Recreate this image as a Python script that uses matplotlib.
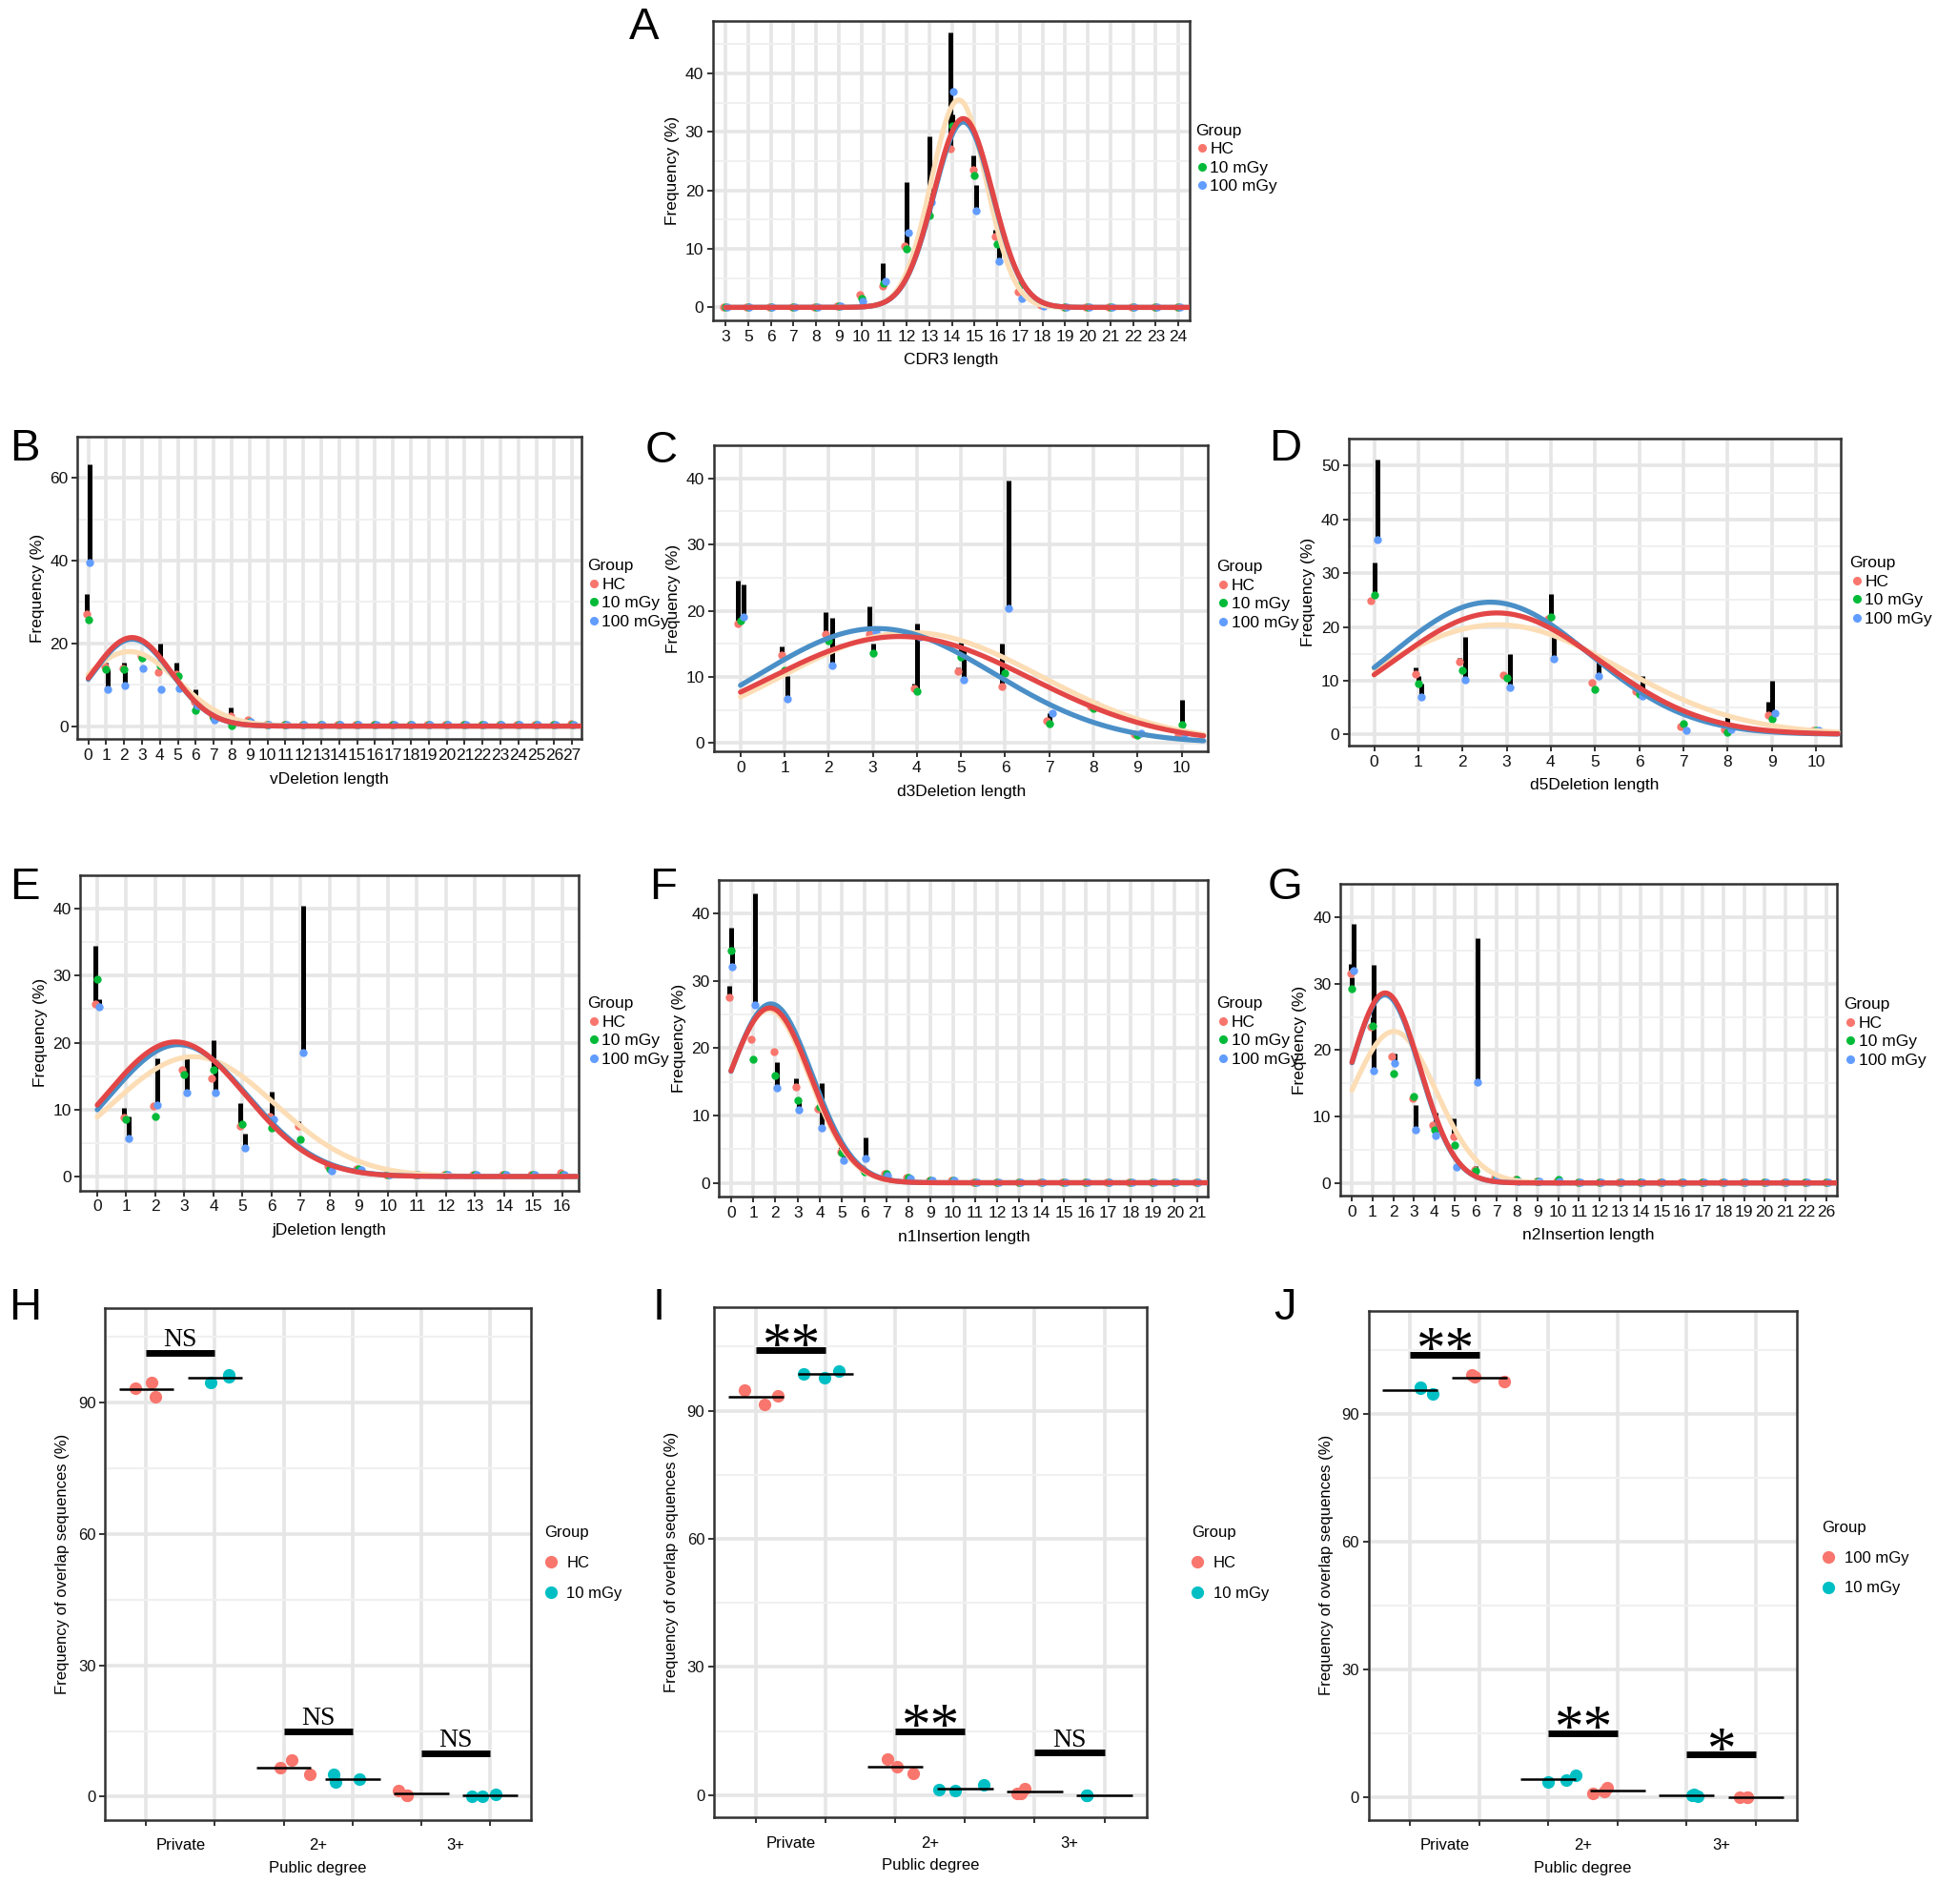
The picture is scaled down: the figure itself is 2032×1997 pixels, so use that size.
import numpy as np
import matplotlib
matplotlib.use("Agg")
import matplotlib.pyplot as plt
from matplotlib.lines import Line2D

plt.rcParams['font.family'] = ['Liberation Sans', 'DejaVu Sans']

# ---------------- data: length distributions (A-G) ----------------
groups = ['HC', '10 mGy', '100 mGy']

A_cats = ['3', '5', '6', '7', '8', '9', '10', '11', '12', '13', '14', '15', '16', '17', '18', '19', '20', '21', '22', '23', '24']
A_hc = [0, 0, 0, 0, 0, 0.2, 2.2, 3.6, 10.5, 17.0, 27.2, 23.6, 12.2, 2.6, 0.4, 0.1, 0, 0, 0, 0, 0.1]
A_hc_up = [0, 0, 0, 0, 0, 0.2, 2.4, 7.5, 10.5, 17.0, 47.0, 26.0, 13.3, 2.6, 0.4, 0.1, 0, 0, 0, 0, 0.1]
A_g10 = [0, 0, 0, 0, 0, 0.3, 1.6, 4.2, 10.0, 15.8, 31.0, 22.6, 10.9, 3.8, 0.5, 0, 0, 0, 0, 0, 0]
A_g10_up = [0, 0, 0, 0, 0, 0.3, 1.6, 4.2, 21.5, 29.3, 33.0, 22.6, 10.9, 3.8, 0.5, 0, 0, 0, 0, 0, 0]
A_g100 = [0, 0, 0, 0, 0, 0.3, 1.0, 4.5, 12.8, 18.0, 37.0, 16.6, 7.9, 1.6, 0.3, 0, 0, 0, 0, 0, 0]
A_g100_up = [0, 0, 0, 0, 0, 0.3, 1.0, 4.5, 12.8, 18.0, 37.0, 21.0, 10.5, 2.5, 0.3, 0, 0, 0, 0, 0, 0]
A_fit = {'HC': (32.3, 10.5, 1.3), '10 mGy': (35.5, 10.3, 1.22), '100 mGy': (31.7, 10.5, 1.3)}

B_cats = ['0', '1', '2', '3', '4', '5', '6', '7', '8', '9', '10', '11', '12', '13', '14', '15', '16', '17', '18', '19', '20', '21', '22', '23', '24', '25', '26', '27']
B_hc = [27.0, 14.5, 14.0, 17.0, 13.0, 12.5, 6.0, 2.5, 2.5, 1.5, 0.3, 0.3, 0.3, 0.3, 0.3, 0.3, 0.3, 0.3, 0.3, 0.3, 0.3, 0.3, 0.3, 0.3, 0.3, 0.3, 0.3, 0.5]
B_hc_up = [32.0, 14.5, 14.0, 17.9, 13.0, 15.4, 6.0, 2.8, 4.6, 1.8, 0.3, 0.3, 0.3, 0.3, 0.3, 0.3, 0.3, 0.3, 0.3, 0.3, 0.3, 0.3, 0.3, 0.3, 0.3, 0.3, 0.3, 0.9]
B_g10 = [25.6, 13.7, 13.7, 16.5, 14.7, 12.0, 3.9, 2.0, 0.2, 1.0, 0.3, 0.3, 0.3, 0.3, 0.3, 0.3, 0.3, 0.3, 0.3, 0.3, 0.3, 0.3, 0.3, 0.3, 0.3, 0.3, 0.3, 0.3]
B_g10_up = [25.6, 15.4, 15.4, 16.5, 20.0, 12.0, 8.8, 2.0, 0.2, 1.0, 0.3, 0.3, 0.3, 0.3, 0.3, 0.3, 0.3, 0.3, 0.3, 0.3, 0.3, 0.3, 0.3, 0.3, 0.3, 0.3, 0.3, 0.3]
B_g100 = [39.6, 8.8, 9.8, 14.0, 8.8, 9.1, 5.0, 1.4, 1.5, 1.0, 0.3, 0.3, 0.3, 0.3, 0.3, 0.3, 0.3, 0.3, 0.3, 0.3, 0.3, 0.3, 0.3, 0.3, 0.3, 0.3, 0.3, 0.3]
B_g100_up = [63.2, 13.7, 13.7, 14.0, 8.8, 9.1, 5.0, 1.4, 1.5, 1.0, 0.3, 0.3, 0.3, 0.3, 0.3, 0.3, 0.3, 0.3, 0.3, 0.3, 0.3, 0.3, 0.3, 0.3, 0.3, 0.3, 0.3, 0.3]
B_fit = {'HC': (21.4, 2.44, 2.2), '10 mGy': (18.0, 2.3, 2.7), '100 mGy': (21.0, 2.45, 2.2)}

C_cats = ['0', '1', '2', '3', '4', '5', '6', '7', '8', '9', '10']
C_hc = [18.0, 13.3, 16.5, 16.5, 8.3, 10.9, 8.5, 3.3, 5.5, 1.3, 1.2]
C_hc_up = [24.5, 14.6, 19.8, 20.7, 9.0, 11.5, 15.0, 3.3, 5.5, 1.3, 1.2]
C_g10 = [18.5, 11.0, 15.5, 13.6, 7.8, 13.0, 10.5, 3.0, 5.2, 1.2, 2.8]
C_g10_up = [19.0, 11.0, 15.5, 15.0, 18.0, 15.2, 10.5, 4.5, 5.2, 1.2, 6.5]
C_g100 = [19.0, 6.7, 11.7, 16.7, 16.0, 9.6, 20.4, 4.5, 5.8, 1.5, 1.5]
C_g100_up = [24.0, 10.2, 18.9, 16.7, 16.0, 14.1, 39.6, 4.5, 6.1, 1.8, 2.0]
C_fit = {'HC': (16.1, 3.61, 2.97), '10 mGy': (16.7, 3.87, 2.93), '100 mGy': (17.3, 3.1, 2.65)}

D_cats = ['0', '1', '2', '3', '4', '5', '6', '7', '8', '9', '10']
D_hc = [24.8, 11.2, 13.5, 11.0, 21.5, 9.7, 8.0, 1.5, 1.0, 3.5, 0.8]
D_hc_up = [25.5, 12.5, 14.2, 11.2, 21.5, 9.7, 8.0, 2.0, 1.0, 6.0, 0.8]
D_g10 = [26.0, 9.5, 12.0, 10.5, 21.9, 8.4, 7.5, 2.0, 0.4, 2.9, 0.8]
D_g10_up = [32.0, 10.8, 12.0, 10.5, 26.2, 8.4, 7.5, 2.0, 3.2, 10.0, 1.0]
D_g100 = [36.3, 7.0, 10.2, 8.7, 14.0, 10.8, 7.1, 0.7, 1.0, 4.0, 0.8]
D_g100_up = [51.2, 9.5, 18.1, 15.0, 18.7, 13.6, 10.8, 0.7, 1.0, 4.0, 0.8]
D_fit = {'HC': (22.6, 2.78, 2.33), '10 mGy': (20.4, 2.8, 2.76), '100 mGy': (24.6, 2.63, 2.25)}

E_cats = ['0', '1', '2', '3', '4', '5', '6', '7', '8', '9', '10', '11', '12', '13', '14', '15', '16']
E_hc = [25.8, 8.8, 10.5, 16.0, 14.7, 7.6, 9.0, 7.5, 1.5, 1.2, 0.3, 0.3, 0.3, 0.3, 0.3, 0.3, 0.5]
E_hc_up = [34.5, 10.2, 11.0, 16.0, 14.7, 10.9, 9.0, 8.3, 1.8, 1.2, 0.3, 0.3, 0.3, 0.3, 0.3, 0.3, 0.5]
E_g10 = [29.5, 8.5, 8.9, 15.2, 16.0, 7.8, 7.3, 5.5, 1.2, 1.2, 0.3, 0.3, 0.3, 0.3, 0.3, 0.3, 0.3]
E_g10_up = [29.8, 8.5, 8.9, 15.2, 20.4, 7.8, 12.7, 5.5, 1.2, 1.2, 0.3, 0.3, 0.3, 0.3, 0.3, 0.3, 0.3]
E_g100 = [25.3, 5.7, 10.7, 12.5, 12.5, 4.2, 8.5, 18.5, 0.8, 1.0, 0.3, 0.3, 0.3, 0.3, 0.3, 0.3, 0.3]
E_g100_up = [26.5, 9.0, 17.6, 18.1, 17.0, 6.4, 8.5, 40.5, 0.8, 1.0, 0.3, 0.3, 0.3, 0.3, 0.3, 0.3, 0.3]
E_fit = {'HC': (20.1, 2.7, 2.4), '10 mGy': (17.9, 3.31, 2.8), '100 mGy': (19.7, 2.8, 2.4)}

F_cats = ['0', '1', '2', '3', '4', '5', '6', '7', '8', '9', '10', '11', '12', '13', '14', '15', '16', '17', '18', '19', '20', '21']
F_hc = [27.6, 21.4, 19.5, 14.3, 11.0, 4.6, 2.0, 1.3, 0.8, 0.4, 0.4, 0.1, 0.1, 0.1, 0.1, 0.1, 0.1, 0.1, 0.1, 0.1, 0.1, 0.1]
F_hc_up = [29.3, 21.4, 19.5, 15.5, 11.0, 5.7, 2.0, 1.3, 0.8, 0.4, 0.4, 0.1, 0.1, 0.1, 0.1, 0.1, 0.1, 0.1, 0.1, 0.1, 0.1, 0.1]
F_g10 = [34.5, 18.4, 16.0, 12.3, 11.3, 4.5, 1.6, 1.3, 0.8, 0.4, 0.4, 0.1, 0.1, 0.1, 0.1, 0.1, 0.1, 0.1, 0.1, 0.1, 0.1, 0.1]
F_g10_up = [37.9, 18.4, 16.0, 12.3, 11.3, 4.5, 1.6, 1.3, 0.8, 0.4, 0.4, 0.1, 0.1, 0.1, 0.1, 0.1, 0.1, 0.1, 0.1, 0.1, 0.1, 0.1]
F_g100 = [32.1, 26.4, 14.1, 10.8, 8.2, 3.3, 3.6, 1.0, 0.6, 0.4, 0.4, 0.1, 0.1, 0.1, 0.1, 0.1, 0.1, 0.1, 0.1, 0.1, 0.1, 0.1]
F_g100_up = [35.0, 43.1, 17.9, 12.5, 14.8, 5.0, 6.7, 1.0, 0.6, 0.4, 0.4, 0.1, 0.1, 0.1, 0.1, 0.1, 0.1, 0.1, 0.1, 0.1, 0.1, 0.1]
F_fit = {'HC': (26.0, 1.75, 1.85), '10 mGy': (25.7, 1.7, 1.85), '100 mGy': (26.6, 1.8, 1.85)}

G_cats = ['0', '1', '2', '3', '4', '5', '6', '7', '8', '9', '10', '11', '12', '13', '14', '15', '16', '17', '18', '19', '20', '21', '22', '26']
G_hc = [31.5, 23.5, 19.1, 12.8, 8.7, 7.0, 2.0, 0.8, 0.5, 0.3, 0.3, 0.1, 0.1, 0.1, 0.1, 0.1, 0.1, 0.1, 0.1, 0.1, 0.1, 0.1, 0.1, 0.1]
G_hc_up = [33.0, 23.5, 19.1, 12.8, 8.7, 9.7, 2.0, 1.2, 0.5, 0.3, 0.3, 0.1, 0.1, 0.1, 0.1, 0.1, 0.1, 0.1, 0.1, 0.1, 0.1, 0.1, 0.1, 0.3]
G_g10 = [29.3, 23.7, 16.4, 13.0, 8.0, 5.7, 1.8, 0.8, 0.6, 0.3, 0.5, 0.1, 0.1, 0.1, 0.1, 0.1, 0.1, 0.1, 0.1, 0.1, 0.1, 0.1, 0.1, 0.1]
G_g10_up = [31.0, 25.0, 16.4, 13.0, 8.0, 5.7, 2.5, 0.8, 0.6, 0.3, 0.5, 0.1, 0.1, 0.1, 0.1, 0.1, 0.1, 0.1, 0.1, 0.1, 0.1, 0.1, 0.1, 0.1]
G_g100 = [32.0, 16.9, 18.0, 8.0, 7.1, 2.4, 15.2, 0.8, 0.3, 0.3, 0.3, 0.1, 0.1, 0.1, 0.1, 0.1, 0.1, 0.1, 0.1, 0.1, 0.1, 0.1, 0.1, 0.1]
G_g100_up = [39.0, 32.8, 19.5, 11.7, 10.6, 2.4, 36.8, 0.8, 0.3, 0.3, 0.3, 0.1, 0.1, 0.1, 0.1, 0.1, 0.1, 0.1, 0.1, 0.1, 0.1, 0.1, 0.1, 0.1]
G_fit = {'HC': (28.6, 1.61, 1.69), '10 mGy': (22.8, 2.03, 2.05), '100 mGy': (28.3, 1.6, 1.69)}

# ---------------- data: public degree overlap (H-J) ----------------
degree_cats = ['Private', '2+', '3+']

H_groups = ['HC', '10 mGy']
H_hc = [[93.2, 94.7, 91.3], [6.6, 8.4, 5.0], [1.5, 0.2, 0.2]]
H_g10 = [[94.7, 96.3, 96.0], [5.0, 3.4, 3.9], [0.1, 0.1, 0.6]]
H_sig = ['NS', 'NS', 'NS']
H_sig_y = [101.4, 14.8, 9.8]

I_groups = ['HC', '10 mGy']
I_hc = [[94.9, 91.5, 93.4], [8.5, 6.7, 5.1], [0.4, 1.5, 0.4]]
I_g10 = [[98.7, 97.8, 99.2], [1.4, 1.0, 2.4], [0.0, 0.0, 0.0]]
I_sig = ['**', '**', 'NS']
I_sig_y = [104.1, 15.0, 9.9]

J_groups = ['100 mGy', '10 mGy']
J_g10 = [[96.2, 94.6, 96.0], [3.5, 4.0, 5.1], [0.5, 0.3, 0.6]]
J_g100 = [[99.0, 98.6, 97.5], [0.9, 1.4, 2.3], [0.0, 0.0, 0.0]]
J_sig = ['**', '**', '*']
J_sig_y = [103.9, 15.0, 10.0]

# jitter offsets (layout only)
H_jit1 = [[-0.16, 0.08, 0.13], [-0.05, 0.12, 0.38], [-0.33, -0.21, -0.21]]
H_jit2 = [[-0.06, 0.20, 0.20], [-0.28, -0.25, 0.10], [-0.26, -0.11, 0.09]]
I_jit1 = [[-0.16, 0.13, 0.32], [-0.11, 0.02, 0.26], [-0.25, -0.15, -0.20]]
I_jit2 = [[-0.31, -0.01, 0.19], [-0.38, -0.14, 0.27], [-0.25, -0.25, -0.25]]
J_jit1 = [[0.15, 0.33, 0.15], [-0.01, 0.26, 0.40], [0.07, 0.16, 0.10]]
J_jit2 = [[-0.11, -0.07, 0.36], [-0.36, -0.19, -0.15], [-0.24, -0.12, -0.12]]

# ---------------- styles ----------------
pt_colors = {'HC': '#F8766D', '10 mGy': '#00BA38', '100 mGy': '#619CFF'}
fit_colors = {'HC': '#E34646', '10 mGy': '#FCDDB5', '100 mGy': '#4A8FC7'}
fit_order = ['10 mGy', '100 mGy', 'HC']
dodge = {'HC': -0.07, '10 mGy': 0.0, '100 mGy': 0.07}
ovl_red = '#F8766D'
ovl_teal = '#00BFC4'
GRID = '#E6E6E6'
GRID_MINOR = '#F0F0F0'
FRAME = '#333333'

fig = plt.figure(figsize=(20.32, 19.97), dpi=100)


def style_frame(ax, tick_fs):
    for s in ax.spines.values():
        s.set_linewidth(1.8)
        s.set_color(FRAME)
    ax.tick_params(which='major', length=4, width=1.4, color=FRAME,
                   labelsize=tick_fs, pad=3, labelcolor='#111111')
    ax.set_axisbelow(True)


def add_legend(x, y, labels, colors, ms, fs, spacing, textpad):
    handles = [Line2D([], [], ls='none', marker='o', color=c, ms=ms) for c in colors]
    fig.legend(handles, labels, title='Group', loc='upper left',
               bbox_to_anchor=(x, y), frameon=False, fontsize=fs,
               title_fontsize=fs, alignment='left', handletextpad=textpad,
               labelspacing=spacing, borderpad=0, borderaxespad=0,
               handlelength=0.8)


def length_panel(rect, cats, means, ups, fits, xlabel, yticks, ylim, xlim,
                 letter, letter_xy, leg_xy):
    ax = fig.add_axes(rect)
    x = np.arange(len(cats))
    ax.set_xlim(*xlim)
    ax.set_ylim(*ylim)
    ax.set_xticks(x)
    ax.set_xticklabels(cats)
    ax.set_yticks(yticks)
    step = yticks[1] - yticks[0]
    ax.set_yticks([t + step / 2 for t in yticks], minor=True)
    ax.tick_params(axis='y', which='minor', length=0)
    ax.grid(which='major', color=GRID, lw=2.6)
    ax.grid(which='minor', axis='y', color=GRID_MINOR, lw=1.4)
    style_frame(ax, 12.5)
    for g in groups:
        m = np.asarray(means[g], float)
        u = np.asarray(ups[g], float)
        ax.vlines(x + dodge[g], m, u, color='black', lw=3.6, zorder=2)
    for g in groups:
        ax.plot(x + dodge[g], means[g], ls='none', marker='o', ms=5,
                color=pt_colors[g], zorder=3)
    xx = np.linspace(0, len(cats) - 0.5, 400)
    for g in fit_order:
        amp, c, s = fits[g]
        ax.plot(xx, amp * np.exp(-(xx - c) ** 2 / (2 * s * s)),
                color=fit_colors[g], lw=3.8, zorder=4, solid_capstyle='round')
    ax.set_xlabel(xlabel, fontsize=12.5, labelpad=7)
    ax.set_ylabel('Frequency (%)', fontsize=12.5, labelpad=4)
    fig.text(letter_xy[0], letter_xy[1], letter, fontsize=34, ha='center', va='center')
    add_legend(leg_xy[0], leg_xy[1], groups, [pt_colors[g] for g in groups],
               5.5, 12.5, 0.25, 0.1)
    return ax


def overlap_panel(rect, vals1, vals2, jit1, jit2, col1, col2, sig, sig_y, ylim,
                  letter, letter_xy, leg_xy, leg_labels, leg_colors):
    ax = fig.add_axes(rect)
    slots = np.arange(6)
    ax.set_xlim(-0.6, 5.6)
    ax.set_ylim(*ylim)
    ax.set_xticks(slots)
    ax.set_xticklabels([''] * 6)
    ax.set_xticks([0.5, 2.5, 4.5], minor=True)
    ax.set_xticklabels(degree_cats, minor=True)
    ax.tick_params(axis='x', which='minor', length=0, labelsize=12, pad=14)
    ax.set_yticks([0, 30, 60, 90])
    ax.set_yticks([15, 45, 75, 105], minor=True)
    ax.tick_params(axis='y', which='minor', length=0)
    ax.grid(which='major', color=GRID, lw=2.6)
    ax.grid(which='minor', axis='y', color=GRID_MINOR, lw=1.6)
    style_frame(ax, 12)
    for k in range(3):
        for vals, jit, col, slot in ((vals1, jit1, col1, 2 * k), (vals2, jit2, col2, 2 * k + 1)):
            v = np.asarray(vals[k], float)
            ax.plot(slot + np.asarray(jit[k]), v, ls='none', marker='o', ms=8.5,
                    color=col, zorder=3)
            ax.hlines(v.mean(), slot - 0.4, slot + 0.4, color='black', lw=1.8, zorder=4)
        ax.hlines(sig_y[k], 2 * k, 2 * k + 1, color='black', lw=5, zorder=4)
        if sig[k] == 'NS':
            ax.annotate(sig[k], (2 * k + 0.5, sig_y[k]), xytext=(0, 5),
                        textcoords='offset points', ha='center', va='baseline',
                        fontsize=20, family=['Liberation Serif', 'DejaVu Serif'])
        else:
            ax.annotate(sig[k], (2 * k + 0.5, sig_y[k]), xytext=(0, -9),
                        textcoords='offset points', ha='center', va='baseline',
                        fontsize=44, family=['Liberation Serif', 'DejaVu Serif'])
    ax.set_xlabel('Public degree', fontsize=12, labelpad=6)
    ax.set_ylabel('Frequency of overlap sequences (%)', fontsize=12, labelpad=6)
    fig.text(letter_xy[0], letter_xy[1], letter, fontsize=34, ha='center', va='center')
    add_legend(leg_xy[0], leg_xy[1], leg_labels, leg_colors, 8.5, 12, 1.0, 0.6)
    return ax


length_panel((0.368, 0.8318, 0.2462, 0.1572), A_cats,
             {'HC': A_hc, '10 mGy': A_g10, '100 mGy': A_g100},
             {'HC': A_hc_up, '10 mGy': A_g10_up, '100 mGy': A_g100_up},
             A_fit, 'CDR3 length', [0, 10, 20, 30, 40], (-2.2, 49), (-0.56, 20.5),
             'A', (0.3323, 0.9857), (0.617, 0.935))

length_panel((0.040, 0.6117, 0.260, 0.1591), B_cats,
             {'HC': B_hc, '10 mGy': B_g10, '100 mGy': B_g100},
             {'HC': B_hc_up, '10 mGy': B_g10_up, '100 mGy': B_g100_up},
             B_fit, 'vDeletion length', [0, 20, 40, 60], (-3.2, 66), (-0.6, 27.5),
             'B', (0.0128, 0.7643), (0.303, 0.7065))

length_panel((0.3686, 0.6052, 0.2551, 0.161), C_cats,
             {'HC': C_hc, '10 mGy': C_g10, '100 mGy': C_g100},
             {'HC': C_hc_up, '10 mGy': C_g10_up, '100 mGy': C_g100_up},
             C_fit, 'd3Deletion length', [0, 10, 20, 30, 40], (-1.3, 41.3), (-0.6, 10.6),
             'C', (0.3412, 0.763), (0.628, 0.706))

length_panel((0.6964, 0.6084, 0.2539, 0.1611), D_cats,
             {'HC': D_hc, '10 mGy': D_g10, '100 mGy': D_g100},
             {'HC': D_hc_up, '10 mGy': D_g10_up, '100 mGy': D_g100_up},
             D_fit, 'd5Deletion length', [0, 10, 20, 30, 40, 50], (-2.1, 53.4), (-0.57, 10.56),
             'D', (0.6633, 0.7643), (0.955, 0.708))

length_panel((0.0415, 0.3747, 0.2570, 0.1656), E_cats,
             {'HC': E_hc, '10 mGy': E_g10, '100 mGy': E_g100},
             {'HC': E_hc_up, '10 mGy': E_g10_up, '100 mGy': E_g100_up},
             E_fit, 'jDeletion length', [0, 10, 20, 30, 40], (-2.1, 42.2), (-0.58, 16.55),
             'E', (0.0128, 0.5338), (0.303, 0.4766))

length_panel((0.3712, 0.3714, 0.2525, 0.1663), F_cats,
             {'HC': F_hc, '10 mGy': F_g10, '100 mGy': F_g100},
             {'HC': F_hc_up, '10 mGy': F_g10_up, '100 mGy': F_g100_up},
             F_fit, 'n1Insertion length', [0, 10, 20, 30, 40], (-2.1, 45), (-0.54, 21.5),
             'F', (0.3425, 0.5338), (0.628, 0.4766))

length_panel((0.6920, 0.3721, 0.2563, 0.1636), G_cats,
             {'HC': G_hc, '10 mGy': G_g10, '100 mGy': G_g100},
             {'HC': G_hc_up, '10 mGy': G_g10_up, '100 mGy': G_g100_up},
             G_fit, 'n2Insertion length', [0, 10, 20, 30, 40], (-1.9, 40.8), (-0.56, 23.5),
             'G', (0.6633, 0.5338), (0.952, 0.476))

overlap_panel((0.0542, 0.0442, 0.2200, 0.2688), H_hc, H_g10, H_jit1, H_jit2,
              ovl_red, ovl_teal, H_sig, H_sig_y, (-5.3, 111.6),
              'H', (0.0128, 0.313), (0.281, 0.1987), H_groups, [ovl_red, ovl_teal])

overlap_panel((0.3686, 0.0455, 0.2232, 0.2681), I_hc, I_g10, I_jit1, I_jit2,
              ovl_red, ovl_teal, I_sig, I_sig_y, (-5.2, 114.3),
              'I', (0.340, 0.313), (0.615, 0.1987), I_groups, [ovl_red, ovl_teal])

overlap_panel((0.7066, 0.0442, 0.2213, 0.2675), J_g10, J_g100, J_jit1, J_jit2,
              ovl_teal, ovl_red, J_sig, J_sig_y, (-5.3, 114.2),
              'J', (0.6633, 0.313), (0.9407, 0.2013), J_groups, [ovl_red, ovl_teal])

fig.savefig('out.png', dpi=100, facecolor='white')
